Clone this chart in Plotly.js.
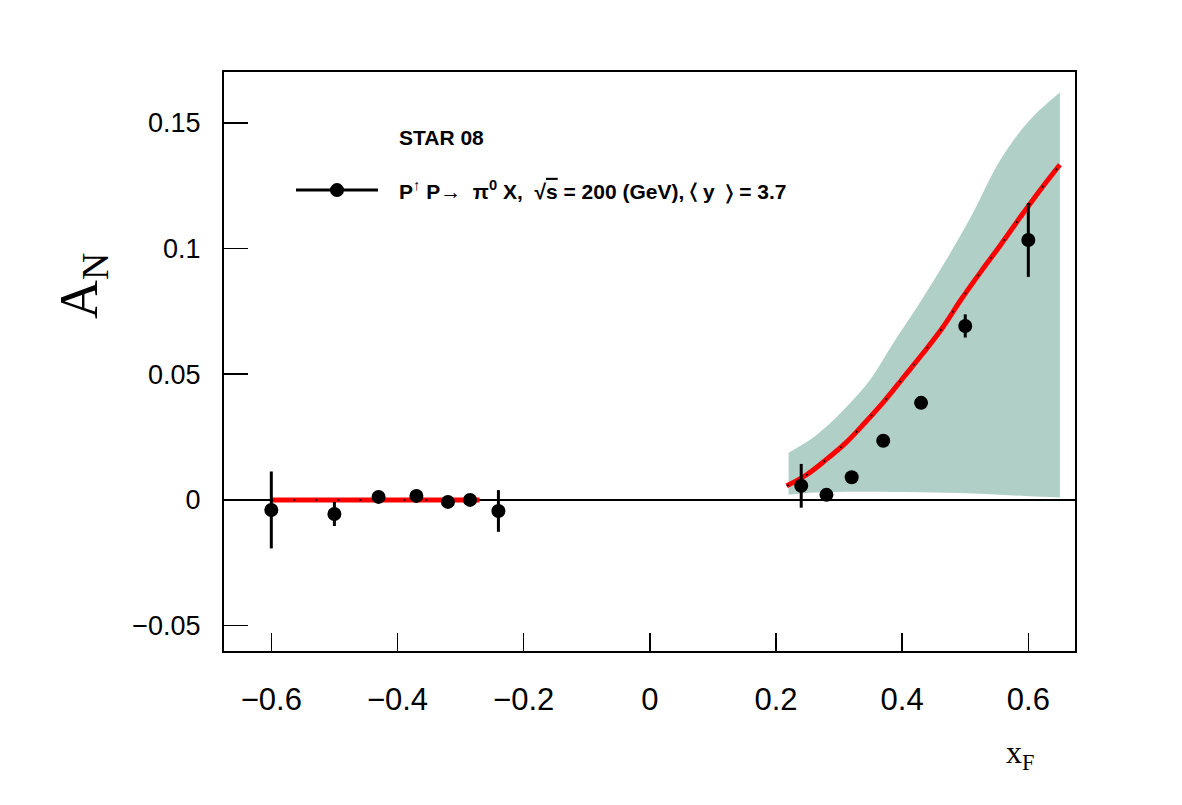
<!DOCTYPE html>
<html>
<head>
<meta charset="utf-8">
<script src="https://cdn.plot.ly/plotly-3.0.1.min.js"></script>
<style>
  html, body { margin: 0; padding: 0; background: #fff; }
  #chart { width: 1182px; height: 805px; }
</style>
</head>
<body>
<div id="chart"></div>
<script>
// STAR 2008 pi0 single-spin asymmetry A_N vs x_F, sqrt(s) = 200 GeV, <y> = 3.7
const dataX   = [-0.60, -0.50, -0.43, -0.37, -0.32, -0.285, -0.24,
                  0.24,  0.28,  0.32,  0.37,  0.43,  0.50,  0.60];
const dataY   = [-0.0040, -0.0056, 0.0012, 0.0016, -0.0008, 0.0000, -0.0044,
                  0.0056,  0.0020, 0.0090, 0.0235, 0.0386, 0.0692, 0.1034];
const dataErr = [0.0153, 0.0048, 0.0015, 0.0015, 0.0015, 0.0015, 0.0083,
                 0.0087, 0.0015, 0.0015, 0.0015, 0.0015, 0.0046, 0.0147];

// model curve, backward region
const fitNegX = [-0.60, -0.50, -0.40, -0.30, -0.27];
const fitNegY = [0.0000, 0.0000, 0.0000, 0.0000, 0.0000];

// model curve, forward region
const fitPosX = [0.217, 0.248, 0.279, 0.311, 0.341, 0.371, 0.403, 0.433,
                 0.464, 0.494, 0.526, 0.556, 0.588, 0.618, 0.650];
const fitPosY = [0.0056, 0.0099, 0.0159, 0.0228, 0.0307, 0.0391, 0.0490, 0.0583,
                 0.0685, 0.0799, 0.0912, 0.1014, 0.1127, 0.1230, 0.1333];

// uncertainty band of the model
const bandX     = [0.220, 0.254, 0.280, 0.312, 0.349, 0.386, 0.428, 0.470, 0.512, 0.555, 0.602, 0.650];
const bandUpper = [0.0188, 0.0239, 0.0292, 0.0371, 0.0477, 0.0624, 0.0784, 0.0955, 0.1140, 0.1350, 0.1510, 0.1620];
const bandLower = [0.0020, 0.0028, 0.0030, 0.0032, 0.0032, 0.0031, 0.0030, 0.0028, 0.0025, 0.0020, 0.0015, 0.0010];

const xTicks = [-0.6, -0.4, -0.2, 0, 0.2, 0.4, 0.6];
const xTickText = ['\u22120.6', '\u22120.4', '\u22120.2', '0', '0.2', '0.4', '0.6'];
const yTicks = [-0.05, 0, 0.05, 0.1, 0.15];
const yTickText = ['\u22120.05', '0', '0.05', '0.1', '0.15'];

const bandColor = 'rgb(176,207,199)';

const traces = [
  {
    x: bandX, y: bandLower, mode: 'lines',
    line: { width: 0, color: bandColor, shape: 'spline' }, hoverinfo: 'skip', showlegend: false
  },
  {
    x: bandX, y: bandUpper, mode: 'lines', fill: 'tonexty', fillcolor: bandColor,
    line: { width: 0, color: bandColor, shape: 'spline' }, hoverinfo: 'skip', showlegend: false
  },
  { x: fitNegX, y: fitNegY, mode: 'lines', line: { color: 'red', width: 5 }, showlegend: false },
  { x: fitNegX, y: fitNegY, mode: 'lines', line: { color: 'black', width: 1.5, dash: '2px,20px' }, showlegend: false },
  { x: fitPosX, y: fitPosY, mode: 'lines', line: { color: 'red', width: 5, shape: 'spline' }, showlegend: false },
  { x: fitPosX, y: fitPosY, mode: 'lines', line: { color: 'black', width: 1.5, dash: '2px,20px', shape: 'spline' }, showlegend: false },
  {
    x: dataX, y: dataY, mode: 'markers',
    marker: { color: 'black', size: 14 },
    error_y: { type: 'data', array: dataErr, visible: true, color: 'black', thickness: 3, width: 0 },
    showlegend: false
  }
];

const layout = {
  width: 1182, height: 805,
  margin: { l: 224, r: 107, t: 72, b: 154 },
  paper_bgcolor: '#fff', plot_bgcolor: '#fff',
  font: { family: 'Liberation Sans, Arial, sans-serif', color: 'black' },
  xaxis: {
    range: [-0.675, 0.674],
    tickvals: xTicks, ticktext: xTickText,
    ticks: 'inside', ticklen: 18, tickwidth: 1.5, tickcolor: 'black',
    tickfont: { size: 31, family: 'Liberation Sans, Arial, sans-serif' },
    ticklabelstandoff: 20,
    showline: true, linewidth: 2, linecolor: 'black', mirror: true,
    showgrid: false, zeroline: false
  },
  yaxis: {
    range: [-0.0601, 0.1702],
    tickvals: yTicks, ticktext: yTickText,
    ticks: 'inside', ticklen: 24, tickwidth: 1.5, tickcolor: 'black',
    tickfont: { size: 27, family: 'Liberation Sans, Arial, sans-serif' },
    ticklabelstandoff: 16,
    showline: true, linewidth: 2, linecolor: 'black', mirror: true,
    showgrid: false, zeroline: true, zerolinecolor: 'black', zerolinewidth: 1.5
  },
  shapes: [
    { type: 'line', xref: 'paper', yref: 'paper', x0: 0.0846, x1: 0.181, y0: 0.796, y1: 0.796,
      line: { color: 'black', width: 3 } },
    { type: 'circle', xref: 'paper', yref: 'paper', xsizemode: 'pixel', ysizemode: 'pixel',
      xanchor: 0.1328, yanchor: 0.796, x0: -7, x1: 7, y0: -7, y1: 7,
      fillcolor: 'black', line: { color: 'black', width: 0 } }
  ],
  annotations: [
    { text: '<b>STAR 08</b>', xref: 'paper', yref: 'paper', x: 0.2033, y: 0.8877,
      xanchor: 'left', yanchor: 'middle', showarrow: false, font: { size: 21 } },
    { text: '<b>P<sup><span style="font-weight:normal">\u2191</span></sup> P\u2192  \u03c0<sup>0</sup> X,  \u221a<span style="text-decoration:overline">s</span> = 200 (GeV), \u2329 y  \u232a = 3.7</b>',
      xref: 'paper', yref: 'paper', x: 0.2033, y: 0.796,
      xanchor: 'left', yanchor: 'middle', showarrow: false, font: { size: 21 } },
    { text: 'A<sub>N</sub>', xref: 'paper', yref: 'paper', x: -0.167, y: 0.63,
      xanchor: 'center', yanchor: 'middle', textangle: -90, showarrow: false,
      font: { size: 54, family: 'Liberation Serif, Times New Roman, serif' } },
    { text: 'x<sub>F</sub>', xref: 'paper', yref: 'paper', x: 0.935, y: -0.178,
      xanchor: 'center', yanchor: 'middle', showarrow: false,
      font: { size: 32, family: 'Liberation Serif, Times New Roman, serif' } }
  ]
};

Plotly.newPlot('chart', traces, layout, { displayModeBar: false, staticPlot: true });
</script>
</body>
</html>
